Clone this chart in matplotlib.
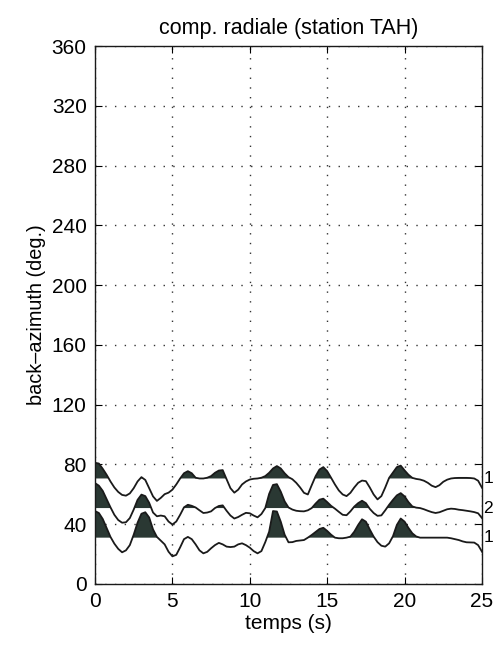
import numpy as np
import matplotlib
matplotlib.use("Agg")
import matplotlib.pyplot as plt

plt.rcParams['font.family'] = ['Liberation Sans', 'DejaVu Sans']

# Time axis (s), sampled every 0.25 s
temps = np.arange(0, 25.25, 0.25)

# Back-azimuth baselines of the stacked traces (deg.), bottom to top
baselines = [31.0, 50.8, 70.6]
trace_labels = ['1', '2', '1']

# Trace amplitudes relative to their baseline (deg. units)
amp_bottom = [17.8, 16.5, 12.5, 6.5, 0.5, -4, -7.5, -9.8, -8.5, -5, 2, 10,
              16, 17, 13.5, 5.5, 0.5, -2, -4.5, -9.4, -12.5, -11.5, -6.5, -1,
              0.5, -1, -4.5, -8.5, -10.5, -9.5, -7.1, -5, -3.5, -4.5, -6, -6.3,
              -6, -4.5, -3.8, -5, -6.7, -9, -10.5, -9, -3, 4, 17.8, 17.5,
              10.7, 2, -3.1, -3, -2.2, -1.9, -1.6, 0, 1.8, 3.8, 5.8, 6.6,
              4.5, 2, 0, -0.4, -0.4, 0, 0.7, 4, 8.5, 12.3, 10.7, 5.5,
              0.7, -3, -5.4, -6, -3.8, 1, 8.5, 12.8, 10.7, 6.5, 2.9, 0.8,
              0, 0, 0, 0, 0, 0, 0, 0, -0.4, -1, -1.6, -2.5,
              -3.1, -3.2, -3.3, -5, -9.4]
amp_middle = [16.7, 15, 11.5, 6, 0.5, -4.5, -8, -9.8, -9.5, -6.7, -1, 5.5,
              9, 8, 3.5, -3, -5.5, -5, -5.5, -9, -11, -9, -4.5, 0.5,
              2.2, 1.5, 0.4, -1.5, -3.3, -3, -2.2, 0, 1.4, 1.8, -1.8, -5,
              -7, -6, -4.5, -3.2, -3.5, -5, -6.2, -4, 0, 9.5, 15.5, 16,
              11, 4.5, 0.4, -1, -1.8, -2.1, -2.2, -1.5, 0, 3, 5.6, 6.3,
              4, 1.5, -0.4, -2.5, -4.5, -4.8, -2.2, 1, 3.3, 4.9, 3.3, -0.5,
              -3.3, -5.2, -4.9, -1.5, 2.2, 5.5, 8.5, 10, 7.8, 4, 1.1, 0.3,
              0, -0.8, -1.8, -2.7, -3.3, -2.8, -1.8, -0.8, -0.4, -0.6, -1.1, -1.4,
              -1.8, -2.2, -2.7, -3.5, -6.7]
amp_top = [10.5, 10, 6.5, 2.5, -2, -6, -9, -11, -11.5, -10, -6.5, -2,
           0.9, -1, -6.5, -12, -15, -13, -10.5, -9.5, -7.5, -4, 0, 3.5,
           4.9, 3.5, 0.5, 0, 0, 0.5, 1.6, 3.8, 5.3, 5.6, -0.5, -6.5,
           -9.5, -7.5, -4, -2, -0.7, -0.2, 0, 0.5, 1.6, 3.8, 6.7, 8.3,
           6.7, 3.5, 0.9, -0.5, -2.9, -6, -9.6, -10.7, -4.5, 1.5, 6, 7.6,
           4.9, 0.5, -4, -8, -10.7, -11.8, -9.6, -6, -2.9, -1.4, -1.8, -6,
           -10.7, -14, -11.8, -6, 0.4, 4, 7.6, 8.6, 5.4, 2.5, 0.4, -0.3,
           -0.7, -1.5, -2.9, -4.8, -5.8, -4.5, -2.2, -0.8, 0, 0.3, 0.4, 0.4,
           0.4, 0.3, 0, -1.5, -6.2]
amplitudes = [amp_bottom, amp_middle, amp_top]

x_ticks = [0, 5, 10, 15, 20, 25]
y_ticks = list(range(0, 361, 40))

fill_color = '#2a3833'
line_color = '#1a1a1a'

fig = plt.figure(figsize=(4.94, 6.48), dpi=100)
ax = fig.add_axes([0.1923, 0.0988, 0.7834, 0.8302])

for base, amp, lab in zip(baselines, amplitudes, trace_labels):
    y = base + np.array(amp)
    ax.fill_between(temps, base, y, where=y >= base, interpolate=True,
                    color=fill_color, linewidth=0, zorder=2)
    ax.plot(temps, y, color=line_color, linewidth=1.3, zorder=3)
    # trace count label just right of the frame
    ax.text(25.08, base, lab, fontsize=12.5, ha='left', va='center',
            clip_on=False)

ax.set_xlim(0, 25)
ax.set_ylim(0, 360)
ax.set_xticks(x_ticks)
ax.set_yticks(y_ticks)
ax.grid(True, color='#333333', linestyle=(0, (1, 6)), linewidth=1.0)
ax.tick_params(direction='in', length=5, width=0.8, top=True, right=True,
               labelsize=15, pad=6)
for s in ax.spines.values():
    s.set_linewidth(1.0)
    s.set_color('#1a1a1a')

ax.set_title('comp. radiale (station TAH)', fontsize=15.5, pad=9)
ax.set_xlabel('temps (s)', fontsize=15, labelpad=2)
ax.set_ylabel('back–azimuth (deg.)', fontsize=14.3, labelpad=4)

fig.savefig('out.png', dpi=100)
